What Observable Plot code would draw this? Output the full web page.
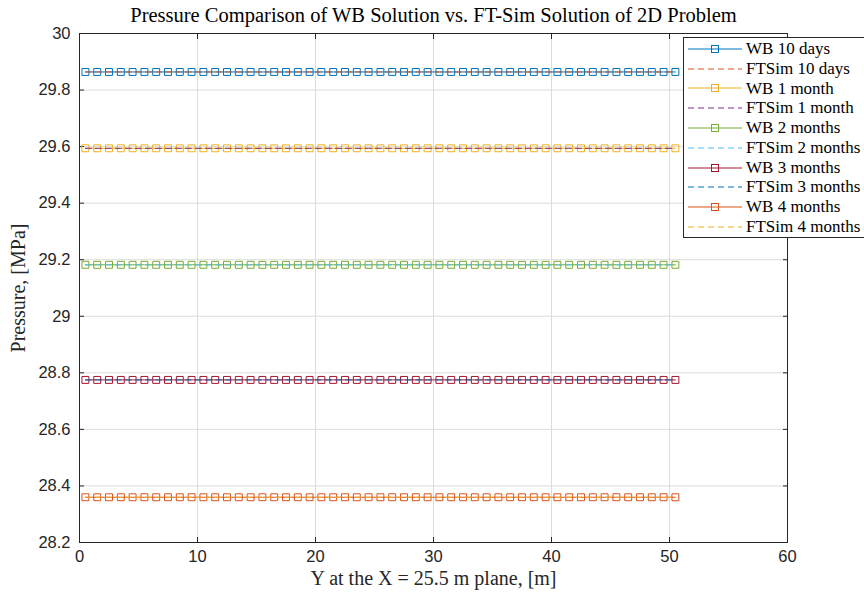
<!DOCTYPE html>
<html>
<head>
<meta charset="utf-8">
<script src="https://cdn.jsdelivr.net/npm/d3@7"></script>
<script src="https://cdn.jsdelivr.net/npm/@observablehq/plot@0.6"></script>
<style>
  html, body { margin: 0; padding: 0; background: #fff; }
  #wrap { position: relative; width: 864px; height: 598px; overflow: hidden; }
  #legend {
    position: absolute; left: 683px; top: 37px; width: 190px;
    background: #fff; border: 1px solid #262626; box-sizing: border-box;
    padding: 1px 0 0 0;
    font-family: "Liberation Serif", serif; font-size: 17px; color: #000;
  }
  .row { height: 19.8px; display: flex; align-items: center; white-space: nowrap; }
  .row svg { margin-left: 4px; margin-right: 4px; flex: none; }
</style>
</head>
<body>
<div id="wrap"><div id="chart"></div><div id="legend"></div></div>
<script>
// Sample positions along Y (m) where WB/FTSim pressures are reported
const yPositions = [0.5, 1.5, 2.5, 3.5, 4.5, 5.5, 6.5, 7.5, 8.5, 9.5,
  10.5, 11.5, 12.5, 13.5, 14.5, 15.5, 16.5, 17.5, 18.5, 19.5,
  20.5, 21.5, 22.5, 23.5, 24.5, 25.5, 26.5, 27.5, 28.5, 29.5,
  30.5, 31.5, 32.5, 33.5, 34.5, 35.5, 36.5, 37.5, 38.5, 39.5,
  40.5, 41.5, 42.5, 43.5, 44.5, 45.5, 46.5, 47.5, 48.5, 49.5, 50.5];
const times = ["10 days", "1 month", "2 months", "3 months", "4 months"];
const wbPressure  = [29.864, 29.594, 29.182, 28.775, 28.360];
const ftsPressure = [29.864, 29.594, 29.182, 28.775, 28.360];
const xTicks = [0, 10, 20, 30, 40, 50, 60];
const yTicks = [28.2, 28.4, 28.6, 28.8, 29, 29.2, 29.4, 29.6, 29.8, 30];

const titleText = "Pressure Comparison of WB Solution vs. FT-Sim Solution of 2D Problem";
const xLabel = "Y at the X = 25.5 m plane, [m]";
const yLabel = "Pressure, [MPa]";

const wbColors  = ["#0072BD", "#EDB120", "#77AC30", "#A2142F", "#D95319"];
const ftsColors = ["#D95319", "#7E2F8E", "#4DBEEE", "#0072BD", "#EDB120"];

const rows = (vals, kind) => times.flatMap((t, i) =>
  yPositions.map(y => ({series: kind + " " + t, i, y, p: vals[i]})));
const wbRows = rows(wbPressure, "WB");
const ftsRows = rows(ftsPressure, "FTSim");

const serif = "Liberation Serif, serif";
const sans = "Liberation Sans, Arial, sans-serif";

const marks = [
  Plot.gridX(xTicks, {stroke: "#dcdcdc", strokeOpacity: 1}),
  Plot.gridY(yTicks, {stroke: "#dcdcdc", strokeOpacity: 1}),
  Plot.axisX(xTicks, {tickSize: 0, tickPadding: 8, fontSize: 16.5, fontFamily: sans, fill: "#262626", label: null}),
  Plot.axisY(yTicks, {tickSize: 0, tickPadding: 9, fontSize: 16.5, fontFamily: sans, fill: "#262626", label: null, tickFormat: d => String(+d.toFixed(1))}),
  Plot.axisX(xTicks, {tickSize: -5, text: null, stroke: "#262626", label: null}),
  Plot.axisX(xTicks, {anchor: "top", tickSize: -5, text: null, stroke: "#262626", label: null}),
  Plot.axisY(yTicks, {tickSize: -5, text: null, stroke: "#262626", label: null}),
  Plot.axisY(yTicks, {anchor: "right", tickSize: -5, text: null, stroke: "#262626", label: null})
];
times.forEach((t, i) => {
  const wb = wbRows.filter(d => d.i === i);
  const ft = ftsRows.filter(d => d.i === i);
  marks.push(Plot.line(wb, {x: "y", y: "p", stroke: wbColors[i], strokeWidth: 1}));
  marks.push(Plot.dot(wb, {x: "y", y: "p", symbol: "square", r: 3.9, stroke: wbColors[i], strokeWidth: 1, fill: "none"}));
  marks.push(Plot.line(ft, {x: "y", y: "p", stroke: ftsColors[i], strokeWidth: 1, strokeDasharray: "6,4"}));
});
marks.push(Plot.frame({stroke: "#262626", strokeWidth: 1}));
marks.push(Plot.text([titleText], {frameAnchor: "top", dy: -26, fontFamily: serif, fontSize: 20.5, fill: "#000"}));
marks.push(Plot.text([xLabel], {frameAnchor: "bottom", dy: 42, fontFamily: serif, fontSize: 20, fill: "#262626"}));
marks.push(Plot.text([yLabel], {frameAnchor: "left", textAnchor: "middle", dx: -61, rotate: -90, fontFamily: serif, fontSize: 20, fill: "#262626"}));

const chart = Plot.plot({
  width: 864, height: 598,
  marginTop: 33, marginLeft: 79, marginRight: 77, marginBottom: 56,
  x: {domain: [0, 60]},
  y: {domain: [28.2, 30]},
  style: {background: "#fff", overflow: "visible"},
  marks
});
document.getElementById("chart").appendChild(chart);

// Legend
const legend = document.getElementById("legend");
times.forEach((t, i) => {
  [["WB", wbColors[i], false], ["FTSim", ftsColors[i], true]].forEach(([kind, color, dashed]) => {
    const row = document.createElement("div");
    row.className = "row";
    const svg = d3.create("svg").attr("width", 54).attr("height", 12);
    svg.append("line").attr("x1", 0).attr("x2", 54).attr("y1", 6).attr("y2", 6)
      .attr("stroke", color).attr("stroke-width", 1)
      .attr("stroke-dasharray", dashed ? "6,4" : null);
    if (!dashed) svg.append("rect").attr("x", 23.5).attr("y", 2.5).attr("width", 7).attr("height", 7)
      .attr("fill", "none").attr("stroke", color);
    row.appendChild(svg.node());
    const span = document.createElement("span");
    span.textContent = kind + " " + t;
    row.appendChild(span);
    legend.appendChild(row);
  });
});
</script>
</body>
</html>
